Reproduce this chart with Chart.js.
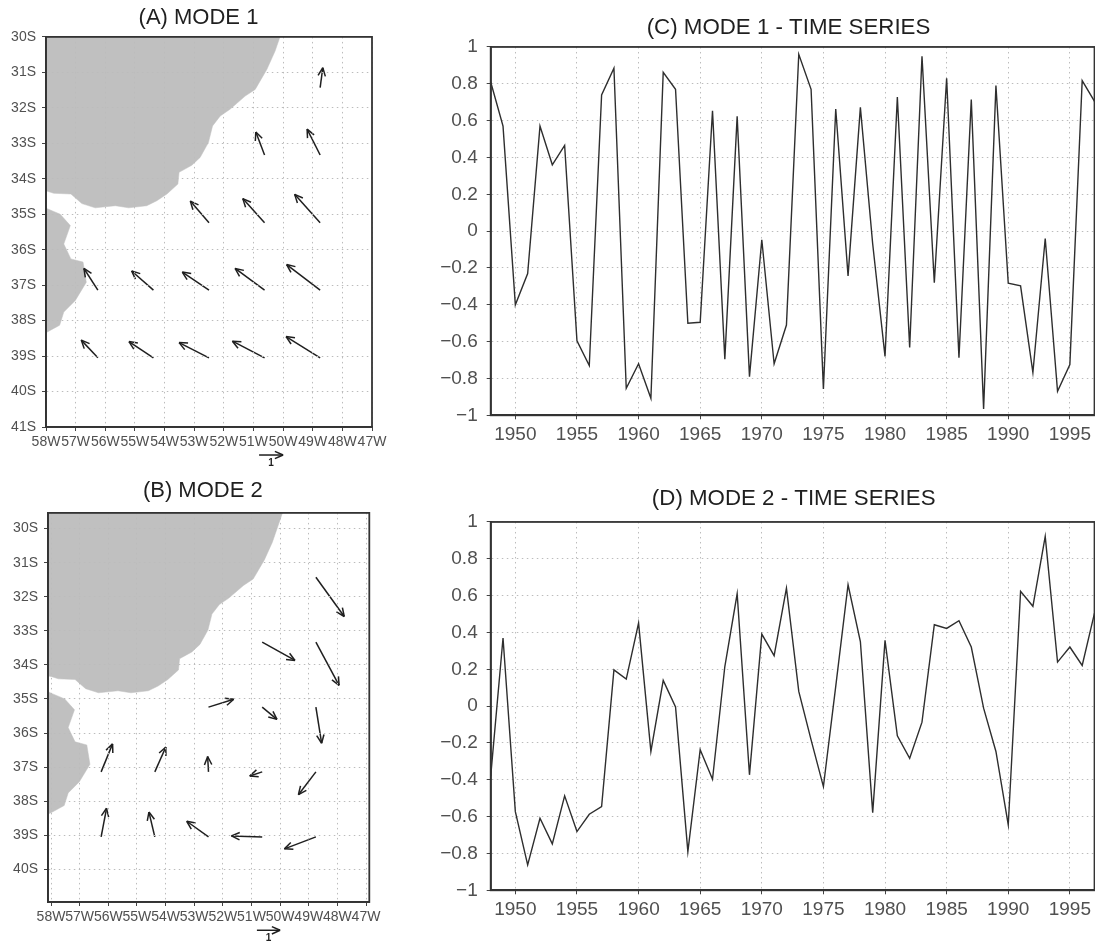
<!DOCTYPE html>
<html>
<head>
<meta charset="utf-8">
<title>Modes</title>
<script src="https://cdn.jsdelivr.net/npm/chart.js@4/dist/chart.umd.min.js"></script>
<style>
  html, body { margin: 0; padding: 0; background: #fff; overflow: hidden; width: 1095px; height: 941px; }
  .panel { position: absolute; }
</style>
</head>
<body>
<div class="panel" style="left:0;top:0"><canvas id="mapA" width="397" height="470"></canvas></div>
<div class="panel" style="left:0;top:470px"><canvas id="mapB" width="406" height="471"></canvas></div>
<div class="panel" style="left:420px;top:0"><canvas id="seriesC" width="675" height="470"></canvas></div>
<div class="panel" style="left:420px;top:470px"><canvas id="seriesD" width="675" height="471"></canvas></div>
<script>
const years = [1948,1949,1950,1951,1952,1953,1954,1955,1956,1957,1958,1959,1960,1961,1962,1963,1964,1965,1966,1967,1968,1969,1970,1971,1972,1973,1974,1975,1976,1977,1978,1979,1980,1981,1982,1983,1984,1985,1986,1987,1988,1989,1990,1991,1992,1993,1994,1995,1996,1997];
const mode1Series = [0.81,0.57,-0.40,-0.23,0.57,0.36,0.465,-0.595,-0.73,0.74,0.885,-0.853,-0.72,-0.908,0.862,0.77,-0.50,-0.495,0.654,-0.695,0.623,-0.79,-0.047,-0.72,-0.51,0.96,0.77,-0.857,0.663,-0.243,0.672,-0.07,-0.68,0.728,-0.632,0.95,-0.28,0.83,-0.688,0.714,-0.965,0.79,-0.283,-0.297,-0.768,-0.04,-0.87,-0.725,0.817,0.705];
const mode2Series = [-0.38,0.37,-0.573,-0.862,-0.609,-0.748,-0.487,-0.681,-0.587,-0.545,0.197,0.147,0.451,-0.246,0.14,-0.005,-0.79,-0.237,-0.397,0.215,0.61,-0.373,0.391,0.274,0.641,0.08,-0.183,-0.437,0.107,0.659,0.351,-0.578,0.357,-0.161,-0.283,-0.087,0.442,0.422,0.464,0.321,-0.011,-0.246,-0.645,0.623,0.542,0.922,0.239,0.321,0.221,0.505];

// coast, degrees west / degrees south
const northLandLon = [58.3,49.86,50.27,50.55,50.94,51.28,51.79,52.12,52.38,52.52,52.80,53.08,53.51,53.55,53.92,54.26,54.60,55.21,55.66,56.34,56.79,57.16,57.74,58.0,58.3];
const northLandLat = [29.4,29.4,30.40,30.92,31.48,31.67,32.04,32.23,32.51,32.98,33.40,33.62,33.82,34.15,34.43,34.62,34.76,34.82,34.76,34.82,34.70,34.43,34.41,34.34,34.3];
const southLandLon = [58.3,58.0,57.52,57.18,57.40,57.16,56.75,56.64,57.01,57.40,57.54,58.0,58.3];
const southLandLat = [34.7,34.83,35.0,35.32,35.84,36.26,36.35,36.92,37.43,37.76,38.13,38.34,38.45];

// arrows, tail and head
const mode1TailLon = [48.75,48.75,50.625,48.75,50.625,52.5,48.75,50.625,52.5,54.375,56.25,48.75,50.625,52.5,54.375,56.25];
const mode1TailLat = [31.43,33.33,33.33,35.24,35.24,35.24,37.14,37.14,37.14,37.14,37.14,39.05,39.05,39.05,39.05,39.05];
const mode1HeadLon = [48.66,49.19,50.92,49.61,51.36,53.13,49.88,51.62,53.40,55.11,56.72,49.90,51.71,53.51,55.20,56.81];
const mode1HeadLat = [30.87,32.60,32.68,34.44,34.56,34.63,36.42,36.53,36.63,36.60,36.53,38.45,38.58,38.62,38.59,38.55];

const mode2TailLon = [48.75,48.75,50.625,48.75,50.625,52.5,48.75,50.625,52.5,54.375,56.25,48.75,50.625,52.5,54.375,56.25];
const mode2TailLat = [31.43,33.33,33.33,35.24,35.24,35.24,37.14,37.14,37.14,37.14,37.14,39.05,39.05,39.05,39.05,39.05];
const mode2HeadLon = [47.76,47.94,49.48,48.55,50.11,51.62,49.36,51.06,52.53,53.99,55.85,49.85,51.70,53.26,54.58,56.06];
const mode2HeadLat = [32.58,34.60,33.87,36.30,35.60,35.01,37.81,37.26,36.69,36.41,36.32,39.40,39.02,38.59,38.32,38.21];

const keyLon = [50.81,50.0];
const keyLat = [41.79,41.79];
const keyLabel = '1';

const FONT = '"Liberation Sans", Arial, sans-serif';
const INK = '#1f1f1f';
const TICK_INK = '#505050';

const framePlugin = {
  id: 'frame',
  afterDraw(chart) {
    const a = chart.chartArea, ctx = chart.ctx;
    ctx.save();
    ctx.strokeStyle = '#333';
    ctx.lineWidth = 1.8;
    ctx.strokeRect(a.left, a.top, a.right - a.left, a.bottom - a.top);
    ctx.restore();
  }
};

// the titles sit off the plot centre in the original
function titleAt(center) {
  return {
    id: 'titleAt',
    afterLayout(chart) {
      const t = chart.titleBlock;
      t.left = center - 150;
      t.right = center + 150;
    }
  };
}

// arrow heads on top of the two-point line datasets
const arrowPlugin = {
  id: 'arrowHeads',
  afterDatasetsDraw(chart) {
    const ctx = chart.ctx, xs = chart.scales.x, ys = chart.scales.y;
    ctx.save();
    ctx.strokeStyle = INK;
    ctx.lineWidth = 1.5;
    chart.data.datasets.forEach(d => {
      if (!d.isArrow) return;
      const x0 = xs.getPixelForValue(d.data[0].x), y0 = ys.getPixelForValue(d.data[0].y);
      const x1 = xs.getPixelForValue(d.data[1].x), y1 = ys.getPixelForValue(d.data[1].y);
      const ang = Math.atan2(y1 - y0, x1 - x0);
      [-0.42, 0.42].forEach(o => {
        ctx.beginPath();
        ctx.moveTo(x1, y1);
        ctx.lineTo(x1 - 9 * Math.cos(ang + o), y1 - 9 * Math.sin(ang + o));
        ctx.stroke();
      });
    });
    // label under the reference vector
    ctx.fillStyle = INK;
    ctx.font = 'bold 10px ' + FONT;
    ctx.textAlign = 'center';
    ctx.textBaseline = 'middle';
    ctx.fillText(keyLabel, xs.getPixelForValue((keyLon[0] + keyLon[1]) / 2), ys.getPixelForValue(keyLat[0]) + 8);
    ctx.restore();
  }
};

function arrowSet(lon0, lat0, lon1, lat1) {
  return { type: 'scatter', isArrow: true, showLine: true, order: 1, clip: false,
    data: [{x: lon0, y: lat0}, {x: lon1, y: lat1}],
    borderColor: INK, borderWidth: 1.5, pointRadius: 0 };
}

function landSet(lons, lats) {
  return { type: 'scatter', showLine: true, order: 2, fill: 'shape', tension: 0,
    data: lons.map((v, i) => ({x: v, y: lats[i]})),
    backgroundColor: '#c0c0c0', borderColor: '#c0c0c0', borderWidth: 0.5, pointRadius: 0 };
}

function gridOpts(z) {
  return { display: true, z: z, color: '#bcbcbc', lineWidth: 1, drawTicks: true, tickLength: 4,
    tickColor: '#444', tickBorderDash: [], tickWidth: 1 };
}
// border z sits above the grid so the grid items exist when it is drawn
const axisBorder = { display: true, z: 2, color: '#333', width: 1.8, dash: [1.5, 3.5] };

function makeMap(id, title, cfg, tailLon, tailLat, headLon, headLat) {
  const sets = [landSet(northLandLon, northLandLat), landSet(southLandLon, southLandLat)];
  tailLon.forEach((v, i) => sets.push(arrowSet(v, tailLat[i], headLon[i], headLat[i])));
  sets.push(arrowSet(keyLon[0], keyLat[0], keyLon[1], keyLat[1]));
  new Chart(document.getElementById(id), {
    type: 'scatter',
    data: { datasets: sets },
    plugins: [arrowPlugin, framePlugin, titleAt(cfg.titleCenter)],
    options: {
      responsive: false, animation: false, devicePixelRatio: 1,
      layout: { padding: { left: 0, right: cfg.padRight, top: 0, bottom: 0 } },
      plugins: {
        legend: { display: false }, tooltip: { enabled: false },
        title: { display: true, text: title, color: INK, font: { family: FONT, size: 22, weight: 'normal', lineHeight: 1.2 },
          padding: { top: cfg.titleTop, bottom: cfg.titleBottom } }
      },
      scales: {
        x: { type: 'linear', reverse: true, min: cfg.lonMin, max: cfg.lonMax, grid: gridOpts(1), border: axisBorder,
          afterFit: s => { s.height = cfg.xHeight; },
          ticks: { stepSize: 1, includeBounds: false, autoSkip: false, maxRotation: 0, minRotation: 0, padding: 3, color: TICK_INK,
            font: { family: FONT, size: 14 }, callback: v => v + 'W' } },
        y: { type: 'linear', reverse: true, min: cfg.latMin, max: cfg.latMax, grid: gridOpts(1), border: axisBorder,
          afterFit: s => { s.width = cfg.yWidth; },
          ticks: { stepSize: 1, includeBounds: false, autoSkip: false, padding: 6, color: TICK_INK,
            font: { family: FONT, size: 14 }, callback: v => v + 'S' } }
      }
    }
  });
}

function makeSeries(id, title, values, cfg) {
  new Chart(document.getElementById(id), {
    type: 'scatter',
    data: { datasets: [{ showLine: true, tension: 0, data: years.map((y, i) => ({x: y, y: values[i]})),
      borderColor: '#2e2e2e', borderWidth: 1.4, pointRadius: 0 }] },
    plugins: [framePlugin, titleAt(cfg.titleCenter)],
    options: {
      responsive: false, animation: false, devicePixelRatio: 1,
      layout: { padding: { left: 0, right: 0, top: 0, bottom: 0 } },
      plugins: {
        legend: { display: false }, tooltip: { enabled: false },
        title: { display: true, text: title, color: INK, font: { family: FONT, size: 22.3, weight: 'normal', lineHeight: 1.2 },
          padding: { top: cfg.titleTop, bottom: cfg.titleBottom } }
      },
      scales: {
        x: { type: 'linear', min: 1948, max: 1997, grid: gridOpts(0), border: axisBorder,
          afterFit: s => { s.height = cfg.xHeight; },
          ticks: { stepSize: 5, includeBounds: false, autoSkip: false, maxRotation: 0, minRotation: 0, padding: 4, color: TICK_INK,
            font: { family: FONT, size: 19 }, callback: v => String(v) } },
        y: { type: 'linear', min: -1, max: 1, grid: gridOpts(0), border: axisBorder,
          afterFit: s => { s.width = 70.7; },
          ticks: { stepSize: 0.2, autoSkip: false, padding: 9, color: TICK_INK,
            font: { family: FONT, size: 19 },
            callback: v => { const r = Math.round(v * 10) / 10; return r < 0 ? '\u2212' + Math.abs(r) : String(r); } } }
      }
    }
  });
}

makeMap('mapA', '(A) MODE 1',
  { titleCenter: 198.5, padRight: 25, titleTop: 4.4, titleBottom: 6.1, xHeight: 43, yWidth: 46, lonMin: 47, lonMax: 58, latMin: 30, latMax: 41 },
  mode1TailLon, mode1TailLat, mode1HeadLon, mode1HeadLat);
makeMap('mapB', '(B) MODE 2',
  { titleCenter: 202.8, padRight: 36.7, titleTop: 7.4, titleBottom: 9.1, xHeight: 39, yWidth: 48, lonMin: 46.885, lonMax: 58.105, latMin: 29.54, latMax: 40.96 },
  mode2TailLon, mode2TailLat, mode2HeadLon, mode2HeadLat);
makeSeries('seriesC', '(C) MODE 1 - TIME SERIES', mode1Series,
  { titleCenter: 368.5, titleTop: 14.2, titleBottom: 6.0, xHeight: 54.7 });
makeSeries('seriesD', '(D) MODE 2 - TIME SERIES', mode2Series,
  { titleCenter: 373.7, titleTop: 15.2, titleBottom: 10, xHeight: 50.7 });
</script>
</body>
</html>
